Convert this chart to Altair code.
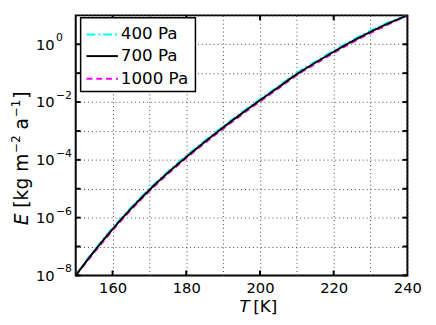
import altair as alt
import pandas as pd

# ---- data ----
T = [150, 155, 160, 165, 170, 175, 180, 185, 190, 195, 200, 205, 210, 215, 220, 225, 230, 235, 240]
E_400 = [1.0e-8, 7.4e-8, 4.36e-7, 2.24e-6, 1.0e-5, 3.9e-5, 1.38e-4, 4.57e-4, 1.45e-3, 4.36e-3, 1.26e-2,
         3.55e-2, 0.102, 0.251, 0.603, 1.38, 2.95, 5.8, 10.0]
E_700 = [1.0e-8, 6.76e-8, 3.98e-7, 2.04e-6, 9.1e-6, 3.55e-5, 1.26e-4, 4.17e-4, 1.32e-3, 3.98e-3, 1.15e-2,
         3.24e-2, 9.3e-2, 0.229, 0.55, 1.26, 2.69, 5.37, 10.0]
E_1000 = [1.0e-8, 6.2e-8, 3.63e-7, 1.86e-6, 8.3e-6, 3.24e-5, 1.15e-4, 3.8e-4, 1.2e-3, 3.63e-3, 1.05e-2,
          2.96e-2, 8.5e-2, 0.209, 0.502, 1.15, 2.45, 5.0, 10.0]
series = ["400 Pa", "700 Pa", "1000 Pa"]
colors = ["#00FFFF", "#000000", "#FF00FF"]
x_grid = [150, 160, 170, 180, 190, 200, 210, 220, 230, 240]
x_major = [160, 180, 200, 220]
y_decades = [1e-8, 1e-7, 1e-6, 1e-5, 1e-4, 1e-3, 1e-2, 1e-1, 1e0, 1e1]
y_labeled = [1e-8, 1e-6, 1e-4, 1e-2, 1e0]
y_exp = ["−8", "−6", "−4", "−2", "0"]

W, H = 338, 265
FONT = "DejaVu Sans"
TICK = 5

x_scale = alt.Scale(domain=[150, 240], nice=False, zero=False)
y_scale = alt.Scale(type="log", domain=[1e-8, 10], nice=False)

grid_kw = dict(grid=True, gridDash=[1, 3], gridColor="#444444", gridWidth=1, gridOpacity=1,
               ticks=False, domain=False, labelFont=FONT, labelColor="black",
               labelOverlap=False, labelFlush=False, title=None)

x_axis = alt.Axis(values=x_grid, labelFontSize=15, labelPadding=5,
                  labelExpr="(datum.value % 20 == 0 && datum.value > 150) ? ('' + datum.value) : ''",
                  **grid_kw)
y_axis = alt.Axis(values=y_decades, labelFontSize=15, labelPadding=22,
                  labelExpr="(round(log(datum.value)/LN10) % 2 == 0 && datum.value < 5) ? '10' : ''",
                  **grid_kw)
xs = alt.X("T:Q", scale=x_scale, axis=x_axis)
ys = alt.Y("E:Q", scale=y_scale, axis=y_axis)

layers = []

# curves
vals = {"400 Pa": E_400, "700 Pa": E_700, "1000 Pa": E_1000}
style = {
    "400 Pa": dict(color=colors[0], strokeDash=[9, 3, 2, 3], strokeWidth=2),
    "1000 Pa": dict(color=colors[2], strokeDash=[6, 4], strokeWidth=2),
    "700 Pa": dict(color=colors[1], strokeWidth=2),
}
for name in ["400 Pa", "1000 Pa", "700 Pa"]:
    d = pd.DataFrame({"T": T, "E": vals[name]})
    layers.append(alt.Chart(d).mark_line(interpolate="monotone", clip=True, **style[name]).encode(
        x=xs, y=ys))

# inward ticks
xt = pd.DataFrame({"T": x_major})
for y0, y1 in [(H, H - TICK), (0, TICK)]:
    layers.append(alt.Chart(xt).mark_rule(color="black", strokeWidth=2).encode(
        x=xs, y=alt.value(y0), y2=alt.value(y1)))
yt = pd.DataFrame({"E": y_decades[:-1]})
for x0, x1 in [(0, TICK), (W, W - TICK)]:
    layers.append(alt.Chart(yt).mark_rule(color="black", strokeWidth=2).encode(
        y=ys, x=alt.value(x0), x2=alt.value(x1)))

# exponents of the y labels
ye = pd.DataFrame({"E": y_labeled, "exp": y_exp})
layers.append(alt.Chart(ye).mark_text(align="left", baseline="middle", dy=-6, fontSize=11,
                                      font=FONT, color="black").encode(
    y=ys, x=alt.value(-20), text="exp:N"))

# legend
one = pd.DataFrame({"k": [0]})
layers.append(alt.Chart(one).mark_rect(fill="white", stroke="black", strokeWidth=1.5).encode(
    x=alt.value(5), x2=alt.value(122), y=alt.value(2.5), y2=alt.value(77.5)))
leg_y = [19.5, 41.5, 64.5]
for i, name in enumerate(series):
    layers.append(alt.Chart(one).mark_rule(**style[name]).encode(
        x=alt.value(11), x2=alt.value(43), y=alt.value(leg_y[i])))
    layers.append(alt.Chart(pd.DataFrame({"t": [name]})).mark_text(
        align="left", baseline="middle", fontSize=17, font=FONT, color="black").encode(
        x=alt.value(46), y=alt.value(leg_y[i]), text="t:N"))

# x title: T [K]
TY = H + 37
layers.append(alt.Chart(pd.DataFrame({"t": ["T"]})).mark_text(
    align="left", baseline="alphabetic", fontSize=17, font=FONT, fontStyle="italic", color="black").encode(
    x=alt.value(167), y=alt.value(TY), text="t:N"))
layers.append(alt.Chart(pd.DataFrame({"t": ["[K]"]})).mark_text(
    align="left", baseline="alphabetic", fontSize=17, font=FONT, color="black").encode(
    x=alt.value(181), y=alt.value(TY), text="t:N"))

# y title pieces, rotated (text, size, style, advance incl. following gap, raise)
FS, SS = 19, 12
pieces = [("E", FS, "italic", 0.632 * FS + 0.318 * FS, 0),
          ("[kg m", FS, "normal", (0.390 + 0.579 + 0.635 + 0.318 + 0.974) * FS + 1, 0),
          ("−2", SS, "normal", (0.838 + 0.636) * SS + 0.318 * FS, -8),
          ("a", FS, "normal", 0.613 * FS + 1, 0),
          ("−1", SS, "normal", (0.838 + 0.636) * SS + 1, -8),
          ("]", FS, "normal", 0.39 * FS, 0)]
pos = 214.0
for txt, fs, fst, adv, up in pieces:
    layers.append(alt.Chart(pd.DataFrame({"t": [txt]})).mark_text(
        align="left", baseline="alphabetic", angle=270, fontSize=fs, font=FONT, fontStyle=fst,
        color="black").encode(x=alt.value(-49 + up), y=alt.value(pos), text="t:N"))
    pos -= adv

chart = alt.layer(*layers).properties(
    width=W, height=H,
    autosize=alt.AutoSizeParams(type="none"),
    padding={"left": 69, "top": 4.5, "right": 21, "bottom": 47},
).configure_view(stroke="black", strokeWidth=2)

chart.save("out.html", embed_options={"renderer": "svg", "actions": False})
